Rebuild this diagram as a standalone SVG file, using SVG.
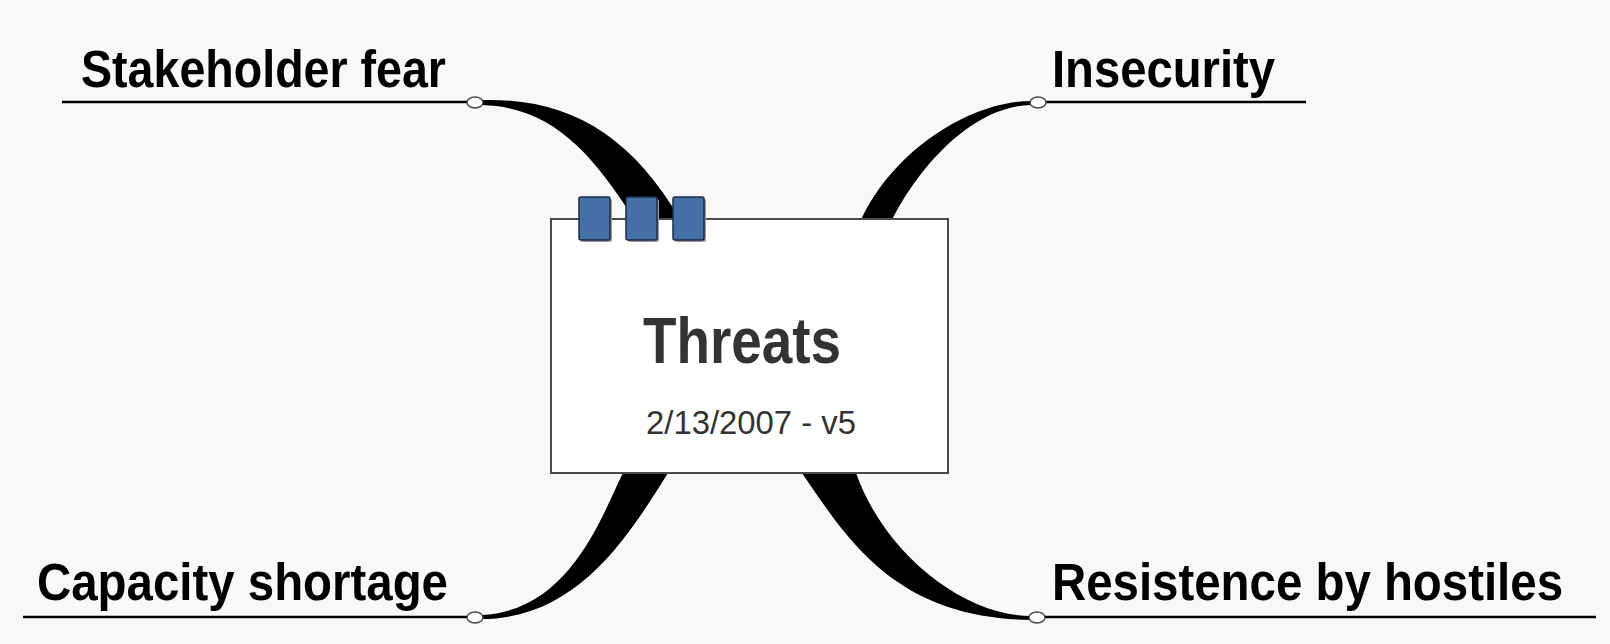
<svg xmlns="http://www.w3.org/2000/svg" width="1610" height="644" viewBox="0 0 1610 644">
<style>
.lbl{font-family:"Liberation Sans",Arial,sans-serif;font-weight:bold;font-size:51px;fill:#000}
.uline{stroke:#000;stroke-width:2.6;fill:none}
.knob{fill:#fff;stroke:#444;stroke-width:1.3}
.conn{fill:#000;stroke:none}
.tab{fill:#4470a6;stroke:#1b2b44;stroke-width:1.5}
.tabsh{fill:#9a9a9a}
</style>
<rect x="0" y="0" width="1610" height="644" fill="#f8f8f6"/>
<g id="connectors">
<path class="conn" d="M 482,100 C 570,98 630,135 680,219 L 634,219 C 590,150 550,107 482,105 Z"/>
<path class="conn" d="M 1031,101 C 963,102 887,158.2 859.1,224.6 L 884.9,235.4 C 909,178 967,106 1031,105 Z"/>
<path class="conn" d="M 623,473 C 602,515 570,611 482,615 L 482,619 C 580,619 632,530 668,473 Z"/>
<path class="conn" d="M 802,473 C 848,540 895,618 1031,620 L 1031,616 C 965,616 885,555 856,473 Z"/>
</g>
<g id="center">
<rect x="551" y="219" width="397" height="254" fill="#fff" stroke="#4a4a4a" stroke-width="2"/>
<rect class="tabsh" x="581" y="199" width="31" height="43" rx="2"/>
<rect class="tab" x="579" y="197" width="31" height="43" rx="2"/>
<rect class="tabsh" x="628" y="199" width="31" height="43" rx="2"/>
<rect class="tab" x="626" y="197" width="31" height="43" rx="2"/>
<rect class="tabsh" x="675" y="199" width="31" height="43" rx="2"/>
<rect class="tab" x="673" y="197" width="31" height="43" rx="2"/>
<text x="643" y="363" font-family="'Liberation Sans',Arial,sans-serif" font-weight="bold" font-size="64" fill="#333" textLength="198" lengthAdjust="spacingAndGlyphs">Threats</text>
<text x="646" y="434" font-family="'Liberation Sans',Arial,sans-serif" font-size="34" fill="#333" textLength="210" lengthAdjust="spacingAndGlyphs">2/13/2007 - v5</text>
</g>
<g id="stakeholder-fear">
<line class="uline" x1="62" y1="102" x2="467" y2="102"/>
<ellipse class="knob" cx="475" cy="102.5" rx="8" ry="5.5"/>
<text class="lbl" x="81" y="87" textLength="365" lengthAdjust="spacingAndGlyphs">Stakeholder fear</text>
</g>
<g id="insecurity">
<line class="uline" x1="1046" y1="102" x2="1306" y2="102"/>
<ellipse class="knob" cx="1038" cy="102.5" rx="8" ry="5.5"/>
<text class="lbl" x="1052" y="87" textLength="223" lengthAdjust="spacingAndGlyphs">Insecurity</text>
</g>
<g id="capacity-shortage">
<line class="uline" x1="23" y1="617" x2="467" y2="617"/>
<ellipse class="knob" cx="475" cy="617.5" rx="8" ry="5.5"/>
<text class="lbl" x="37" y="600" textLength="411" lengthAdjust="spacingAndGlyphs">Capacity shortage</text>
</g>
<g id="resistence-by-hostiles">
<line class="uline" x1="1045" y1="617" x2="1596" y2="617"/>
<ellipse class="knob" cx="1037" cy="617.5" rx="8" ry="5.5"/>
<text class="lbl" x="1052" y="600" textLength="511" lengthAdjust="spacingAndGlyphs">Resistence by hostiles</text>
</g>
</svg>
